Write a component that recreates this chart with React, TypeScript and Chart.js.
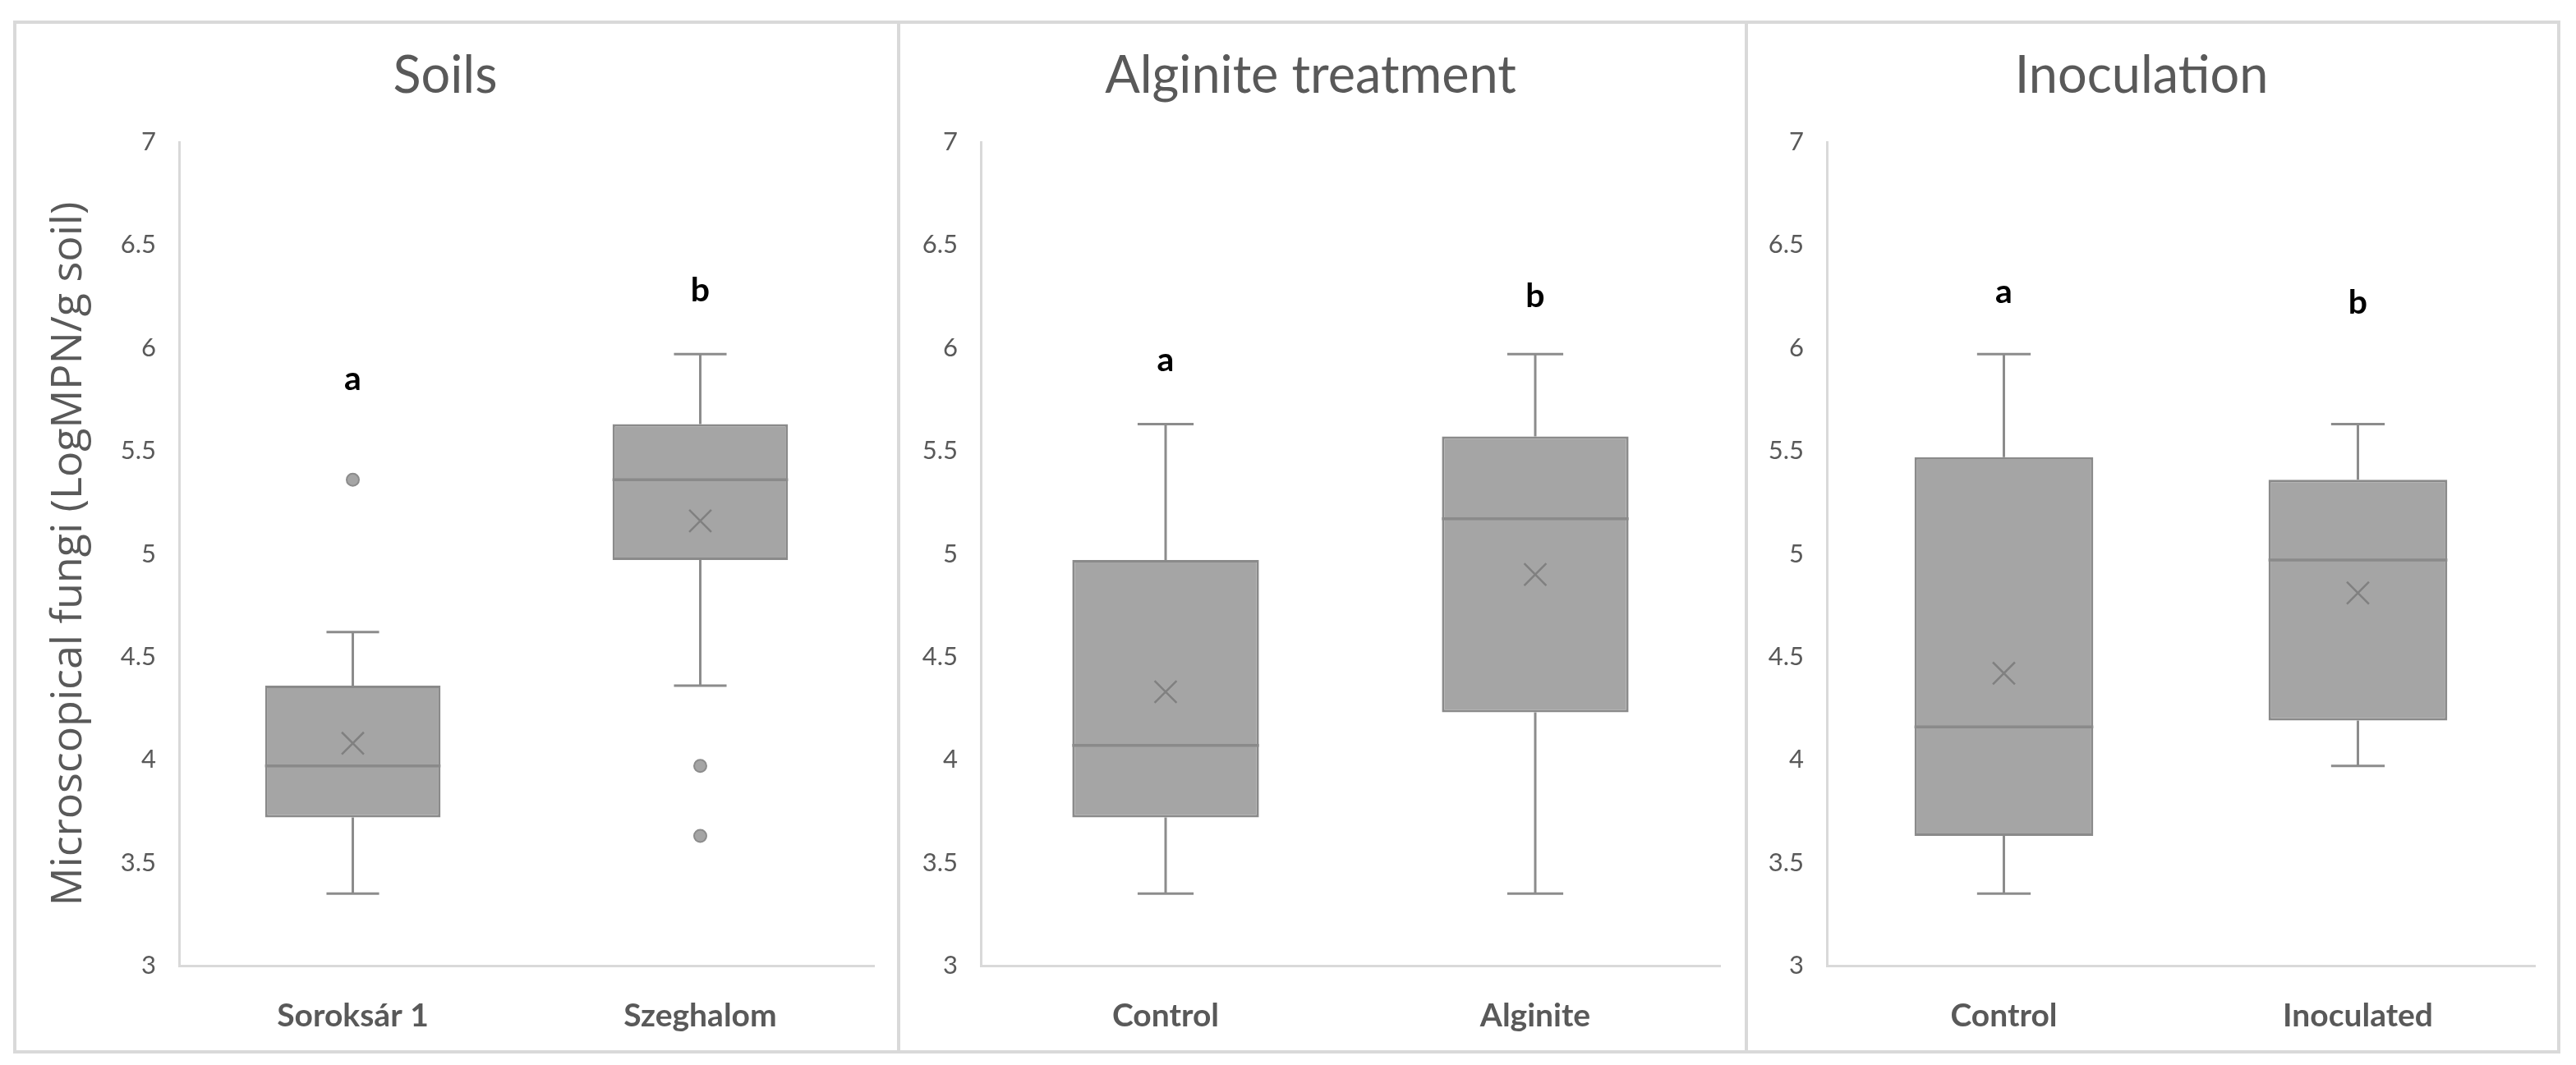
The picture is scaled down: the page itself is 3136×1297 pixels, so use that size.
import React, { useEffect, useRef } from 'react';
import { Chart, registerables } from 'chart.js';

Chart.register(...registerables);

// ---------- data ----------
const soilCategories = ['Soroksár 1', 'Szeghalom'];
const soilMin = [3.35, 4.36];
const soilQ1 = [3.72, 4.97];
const soilMedian = [3.97, 5.36];
const soilQ3 = [4.36, 5.63];
const soilMax = [4.62, 5.97];
const soilMean = [4.08, 5.16];
const soilOutliers = [[5.36], [3.97, 3.63]];
const soilLetters = ['a', 'b'];
const soilLetterY = [5.85, 6.28];

const algCategories = ['Control', 'Alginite'];
const algMin = [3.35, 3.35];
const algQ1 = [3.72, 4.23];
const algMedian = [4.07, 5.17];
const algQ3 = [4.97, 5.57];
const algMax = [5.63, 5.97];
const algMean = [4.33, 4.9];
const algOutliers: number[][] = [[], []];
const algLetters = ['a', 'b'];
const algLetterY = [5.94, 6.25];

const inoCategories = ['Control', 'Inoculated'];
const inoMin = [3.35, 3.97];
const inoQ1 = [3.63, 4.19];
const inoMedian = [4.16, 4.97];
const inoQ3 = [5.47, 5.36];
const inoMax = [5.97, 5.63];
const inoMean = [4.42, 4.81];
const inoOutliers: number[][] = [[], []];
const inoLetters = ['a', 'b'];
const inoLetterY = [6.27, 6.22];

const yTickValues = [3, 3.5, 4, 4.5, 5, 5.5, 6, 6.5, 7];
const panelTitles = ['Soils', 'Alginite treatment', 'Inoculation'];
const yAxisTitle = 'Microscopical fungi (LogMPN/g soil)';

const panelData = [
  { categories: soilCategories, min: soilMin, q1: soilQ1, median: soilMedian, q3: soilQ3, max: soilMax, mean: soilMean, outliers: soilOutliers, letters: soilLetters, letterY: soilLetterY },
  { categories: algCategories, min: algMin, q1: algQ1, median: algMedian, q3: algQ3, max: algMax, mean: algMean, outliers: algOutliers, letters: algLetters, letterY: algLetterY },
  { categories: inoCategories, min: inoMin, q1: inoQ1, median: inoMedian, q3: inoQ3, max: inoMax, mean: inoMean, outliers: inoOutliers, letters: inoLetters, letterY: inoLetterY },
];

// ---------- layout / style ----------
const PANEL_TOP = 29;
const PANEL_BOTTOM = 1279;
const PLOT_TOP = 173;
const PLOT_BOTTOM = 1176;
const panelLayouts = [
  { left: 20, right: 1092, plotLeft: 218, plotRight: 1064 },
  { left: 1097, right: 2124, plotLeft: 1194, plotRight: 2094 },
  { left: 2128, right: 3113, plotLeft: 2224, plotRight: 3086 },
];

const TEXT_GRAY = '#595959';
const AXIS_GRAY = '#d9d9d9';
const BOX_FILL = '#a5a5a5';
const BOX_EDGE = '#8a8a8a';
const WHISKER = '#8c8c8c';
const MEAN_COLOR = '#808080';

const TITLE_SIZE = 63;
const XLABEL_SIZE = 39;
const YTITLE_SIZE = 52;

type PanelProps = { index: number };

function Panel({ index }: PanelProps) {
  const ref = useRef<HTMLCanvasElement | null>(null);
  const d = panelData[index];
  const lay = panelLayouts[index];
  const width = lay.right - lay.left;
  const height = PANEL_BOTTOM - PANEL_TOP;

  useEffect(() => {
    if (!ref.current) return;
    const titleLine = TITLE_SIZE * 1.2;
    const titleCenter = 93 - PANEL_TOP;
    const titlePadTop = titleCenter - titleLine / 2;
    const titlePadBottom = PLOT_TOP - PANEL_TOP - titlePadTop - titleLine;

    const whiskerPlugin = {
      id: 'whiskers' + index,
      beforeDatasetsDraw(chart: any) {
        const { ctx, scales } = chart;
        const y = scales.y;
        const meta = chart.getDatasetMeta(0);
        ctx.save();
        ctx.strokeStyle = WHISKER;
        ctx.lineWidth = 3;
        d.categories.forEach((_: string, i: number) => {
          const bar = meta.data[i];
          const cx = bar.x;
          const cap = bar.width * 0.3;
          const yMax = y.getPixelForValue(d.max[i]);
          const yQ3 = y.getPixelForValue(d.q3[i]);
          const yQ1 = y.getPixelForValue(d.q1[i]);
          const yMin = y.getPixelForValue(d.min[i]);
          ctx.beginPath();
          ctx.moveTo(cx, yQ3);
          ctx.lineTo(cx, yMax);
          ctx.moveTo(cx - cap / 2, yMax);
          ctx.lineTo(cx + cap / 2, yMax);
          ctx.moveTo(cx, yQ1);
          ctx.lineTo(cx, yMin);
          ctx.moveTo(cx - cap / 2, yMin);
          ctx.lineTo(cx + cap / 2, yMin);
          ctx.stroke();
        });
        ctx.restore();
      },
      afterDatasetsDraw(chart: any) {
        const { ctx, scales } = chart;
        const y = scales.y;
        const meta = chart.getDatasetMeta(0);
        ctx.save();
        ctx.strokeStyle = BOX_EDGE;
        ctx.lineWidth = 3.5;
        d.categories.forEach((_: string, i: number) => {
          const bar = meta.data[i];
          const ym = y.getPixelForValue(d.median[i]);
          ctx.beginPath();
          ctx.moveTo(bar.x - bar.width / 2, ym);
          ctx.lineTo(bar.x + bar.width / 2, ym);
          ctx.stroke();
        });
        ctx.fillStyle = '#000000';
        ctx.font = 'bold 41px Lato';
        ctx.textAlign = 'center';
        ctx.textBaseline = 'middle';
        d.letters.forEach((t: string, i: number) => {
          const bar = meta.data[i];
          ctx.fillText(t, bar.x, y.getPixelForValue(d.letterY[i]));
        });
        ctx.restore();
      },
    };

    const outlierPoints = d.outliers.flatMap((arr: number[], i: number) =>
      arr.map((v) => ({ x: d.categories[i], y: v }))
    );

    const chart = new Chart(ref.current, {
      type: 'bar',
      data: {
        labels: d.categories,
        datasets: [
          {
            type: 'bar',
            data: d.q1.map((v: number, i: number) => [v, d.q3[i]]),
            backgroundColor: BOX_FILL,
            borderColor: BOX_EDGE,
            borderWidth: 3,
            borderSkipped: false,
            barPercentage: 0.505,
            categoryPercentage: 1,
            order: 3,
          } as any,
          {
            type: 'line',
            data: d.mean,
            showLine: false,
            pointStyle: 'crossRot',
            pointRadius: 19,
            pointBorderColor: MEAN_COLOR,
            pointBorderWidth: 2.5,
            pointBackgroundColor: 'rgba(0,0,0,0)',
            order: 1,
          } as any,
          {
            type: 'line',
            data: outlierPoints,
            showLine: false,
            pointStyle: 'circle',
            pointRadius: 7.5,
            pointBackgroundColor: BOX_FILL,
            pointBorderColor: WHISKER,
            pointBorderWidth: 2,
            order: 2,
          } as any,
        ],
      },
      options: {
        animation: false,
        responsive: false,
        devicePixelRatio: 1,
        events: [],
        layout: { padding: { left: 0, top: 0, bottom: 0, right: lay.right - lay.plotRight } },
        plugins: {
          legend: { display: false },
          tooltip: { enabled: false },
          title: {
            display: true,
            text: panelTitles[index],
            color: TEXT_GRAY,
            font: { family: 'Lato', size: TITLE_SIZE, weight: 'normal', lineHeight: 1.2 },
            padding: { top: titlePadTop, bottom: titlePadBottom },
          },
        },
        scales: {
          x: {
            grid: { display: false, drawTicks: false },
            border: { display: true, color: AXIS_GRAY, width: 3 },
            ticks: {
              color: TEXT_GRAY,
              font: { family: 'Lato', size: XLABEL_SIZE, weight: 'bold', lineHeight: 1.2 },
              padding: 61 - XLABEL_SIZE * 0.6,
              maxRotation: 0,
              autoSkip: false,
            },
            afterFit: (s: any) => {
              s.height = PANEL_BOTTOM - PLOT_BOTTOM;
            },
          },
          y: {
            min: 3,
            max: 7,
            grid: { display: false, drawTicks: false },
            border: { display: true, color: AXIS_GRAY, width: 3 },
            ticks: {
              color: TEXT_GRAY,
              font: { family: 'Lato', size: 31 },
              padding: 28,
              callback: (v: any) => String(v),
            },
            afterBuildTicks: (s: any) => {
              s.ticks = yTickValues.map((v) => ({ value: v }));
            },
            afterFit: (s: any) => {
              s.width = lay.plotLeft - lay.left;
            },
            title:
              index === 0
                ? {
                    display: true,
                    text: yAxisTitle,
                    color: TEXT_GRAY,
                    font: { family: 'Open Sans', size: YTITLE_SIZE, lineHeight: 1.2 },
                    padding: { top: 84 - lay.left - YTITLE_SIZE * 0.6, bottom: 0 },
                  }
                : { display: false },
          },
        },
      } as any,
      plugins: [whiskerPlugin as any],
    });
    return () => chart.destroy();
  }, [index]);

  return (
    <canvas
      ref={ref}
      width={width}
      height={height}
      style={{ position: 'absolute', left: lay.left, top: PANEL_TOP, width, height }}
    />
  );
}

export default function App() {
  return (
    <div
      style={{
        position: 'fixed',
        left: 0,
        top: 0,
        width: 3136,
        height: 1297,
        background: '#ffffff',
        overflow: 'hidden',
      }}
    >
      <div
        style={{
          position: 'absolute',
          left: 16,
          top: 25,
          width: 3101,
          height: 1258,
          boxSizing: 'border-box',
          border: `4px solid ${AXIS_GRAY}`,
        }}
      />
      <div style={{ position: 'absolute', left: 1092, top: 25, width: 4, height: 1258, background: AXIS_GRAY }} />
      <div style={{ position: 'absolute', left: 2124, top: 25, width: 4, height: 1258, background: AXIS_GRAY }} />
      <Panel index={0} />
      <Panel index={1} />
      <Panel index={2} />
    </div>
  );
}
